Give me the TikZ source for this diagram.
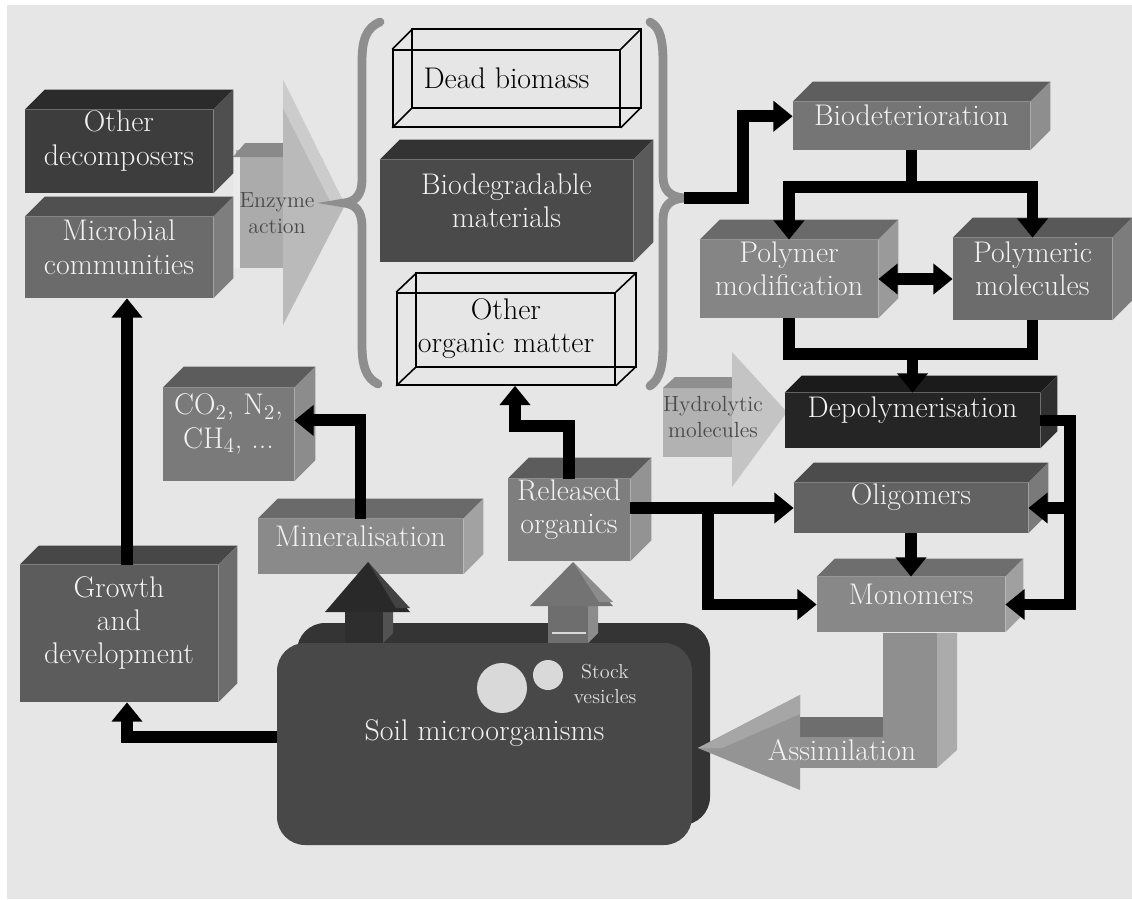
\documentclass[tikz,border=0pt]{standalone}
\usetikzlibrary{fit,calc,arrows.meta}
\definecolor{bg}{HTML}{E6E6E6}
\definecolor{txtw}{HTML}{F2F2F2}
\definecolor{txtg}{HTML}{4A4A4A}
\definecolor{braceg}{HTML}{8E8E8E}
% box colours: front / top / side
\definecolor{odf}{HTML}{3D3D3D}\definecolor{odt}{HTML}{2B2B2B}\definecolor{ods}{HTML}{4F4F4F}
\definecolor{mcf}{HTML}{6B6B6B}\definecolor{mct}{HTML}{505050}\definecolor{mcs}{HTML}{7E7E7E}
\definecolor{bmf}{HTML}{4A4A4A}\definecolor{bmt}{HTML}{333333}\definecolor{bms}{HTML}{5A5A5A}
\definecolor{bdf}{HTML}{757575}\definecolor{bdt}{HTML}{5E5E5E}\definecolor{bds}{HTML}{8E8E8E}
\definecolor{pmf}{HTML}{858585}\definecolor{pmt}{HTML}{6A6A6A}\definecolor{pms}{HTML}{9A9A9A}
\definecolor{plf}{HTML}{6C6C6C}\definecolor{plt}{HTML}{585858}\definecolor{pls}{HTML}{7C7C7C}
\definecolor{dpf}{HTML}{252525}\definecolor{dpt}{HTML}{1B1B1B}\definecolor{dps}{HTML}{303030}
\definecolor{olf}{HTML}{626262}\definecolor{olt}{HTML}{4C4C4C}\definecolor{ols}{HTML}{7A7A7A}
\definecolor{mof}{HTML}{888888}\definecolor{mot}{HTML}{6E6E6E}\definecolor{mos}{HTML}{A0A0A0}
\definecolor{mif}{HTML}{8A8A8A}\definecolor{mit}{HTML}{6A6A6A}\definecolor{mis}{HTML}{A2A2A2}
\definecolor{ref}{HTML}{7E7E7E}\definecolor{ret}{HTML}{5C5C5C}\definecolor{res}{HTML}{939393}
\definecolor{cof}{HTML}{7A7A7A}\definecolor{cot}{HTML}{5C5C5C}\definecolor{cos}{HTML}{8C8C8C}
\definecolor{grf}{HTML}{5C5C5C}\definecolor{grt}{HTML}{474747}\definecolor{grs}{HTML}{6D6D6D}
\definecolor{soilf}{HTML}{484848}\definecolor{soilb}{HTML}{343434}
\definecolor{vesc}{HTML}{D9D9D9}
\newcommand\cube[8]{%
  \node[boxnode, fill=#4, fit={#2 #3}] (#1) {#7};
  \fill[#5] (#1.north west) -- ++(#8,-#8) -- ($(#1.north east)+(#8,-#8)$) -- (#1.north east) -- cycle;
  \fill[#6] (#1.north east) -- ++(#8,-#8) -- ($(#1.south east)+(#8,-#8)$) -- (#1.south east) -- cycle;
}
\begin{document}
\begin{tikzpicture}[x=0.02cm,y=-0.02cm,
  lbl/.style={font=\fontsize{17}{19}\selectfont, text=txtw, align=center},
  small/.style={font=\fontsize{12.5}{14.5}\selectfont, align=center},
  boxnode/.style={inner sep=0pt, lbl},
  wire/.style={draw=black, line width=0.9pt},
  wirebox/.style={wire, inner sep=0pt, lbl, text=black},
  conn/.style={draw=black, line width=6.8pt, line join=miter, -{Triangle[length=11pt,width=17pt]}},
  conn2/.style={draw=black, line width=6.8pt, line join=miter, {Triangle[length=11pt,width=17pt]}-{Triangle[length=11pt,width=17pt]}},
  connline/.style={draw=black, line width=6.8pt, line join=miter},
  brace/.style={draw=braceg, line width=5pt, line cap=round},
]
\useasboundingbox (0,0) rectangle (1132,899);
\fill[white] (0,0) rectangle (1132,899);
\fill[bg] (7,5) rectangle (1132,899);

% Enzyme action block arrow
\fill[black!33] (236,150) rectangle (290,268);
\fill[black!8] (233,157) rectangle (240,268);
\fill[black!46] (233,157) -- (245,143) -- (286,143) -- (286,157) -- cycle;
\fill[black!27] (283,80) -- (345,205) -- (283,325) -- cycle;
\fill[black!20] (283,80) -- (345,205) -- (332,205) -- (283,108) -- cycle;
\node[small, text=txtg] (enz) at (277,213) {Enzyme\\action};

% Hydrolytic molecules block arrow
\fill[black!30] (663,388) rectangle (735,457);
\fill[black!44] (663,388) -- (675,377) -- (735,377) -- (735,388) -- cycle;
\fill[black!23] (732,352) -- (787,412) -- (732,487) -- cycle;
\node[small, text=txtg] (hydro) at (713,417) {Hydrolytic\\molecules};

% left column
\cube{od}{(25,110)}{(213,193)}{odf}{odt}{ods}{Other\\decomposers}{20}
\cube{mc}{(25,217)}{(213,298)}{mcf}{mct}{mcs}{Microbial\\communities}{20}
\cube{growth}{(20,565)}{(218,702)}{grf}{grt}{grs}{Growth\\and\\development}{19}
\cube{co2}{(163,388)}{(294,481)}{cof}{cot}{cos}{CO$_2$, N$_2$,\\CH$_4$, ...}{21}
\cube{mineral}{(258,519)}{(463,574)}{mif}{mit}{mis}{Mineralisation}{20}
\cube{released}{(508,479)}{(630,561)}{ref}{ret}{res}{Released\\organics}{21}

% middle column
\node[wirebox, fit={(393,50) (620,127)}] (dead) {Dead biomass};
\draw[wire] ($(dead.north west)+(20,-20)$) rectangle ($(dead.south east)+(20,-20)$);
\draw[wire] (dead.north west) -- ++(20,-20) (dead.north east) -- ++(20,-20)
            (dead.south west) -- ++(20,-20) (dead.south east) -- ++(20,-20);
\cube{bio}{(380,160)}{(633,262)}{bmf}{bmt}{bms}{Biodegradable\\materials}{20}
\node[wirebox, fit={(397,293) (615,385)}] (oom) {Other\\organic matter};
\draw[wire] ($(oom.north west)+(20,-19)$) rectangle ($(oom.south east)+(20,-19)$);
\draw[wire] (oom.north west) -- ++(20,-19) (oom.north east) -- ++(20,-19)
            (oom.south west) -- ++(20,-19) (oom.south east) -- ++(20,-19);

% braces
\draw[brace] (380,22) .. controls (366,28) and (362,40) .. (362,62) -- (362,180)
  .. controls (362,195) and (355,202) .. (344,203) .. controls (355,204) and (362,211) .. (362,226)
  -- (362,345) .. controls (362,366) and (366,378) .. (378,384);
\draw[brace] (650,22) .. controls (660,27) and (663,40) .. (663,62) -- (663,176)
  .. controls (663,190) and (670,197) .. (684,198) .. controls (670,199) and (663,206) .. (663,220)
  -- (663,345) .. controls (663,366) and (660,379) .. (650,386);
\coordinate (rbr) at (684,198);

% right column
\cube{biodet}{(793,102)}{(1030,150)}{bdf}{bdt}{bds}{Biodeterioration}{20}
\cube{polymod}{(700,240)}{(878,318)}{pmf}{pmt}{pms}{Polymer\\modification}{20}
\cube{polymol}{(953,238)}{(1112,320)}{plf}{plt}{pls}{Polymeric\\molecules}{20}
\cube{depoly}{(785,393)}{(1040,448)}{dpf}{dpt}{dps}{Depolymerisation}{17}
\cube{olig}{(794,483)}{(1028,533)}{olf}{olt}{ols}{Oligomers}{20}
\cube{monom}{(817,577)}{(1005,632)}{mof}{mot}{mos}{Monomers}{18}

% soil microorganisms
\fill[soilb, rounded corners=16pt] (297,623) rectangle (710,825);
\node[boxnode, fill=soilf, rounded corners=16pt, fit={(277,643) (692,845)}] (soil) {Soil microorganisms};
\node[circle, fill=vesc, inner sep=0pt, minimum size=1cm] (ves1) at (502,688) {};
\node[circle, fill=vesc, inner sep=0pt, minimum size=0.6cm] (ves2) at (548,675) {};
\node[font=\fontsize{11.5}{14}\selectfont, align=center, text=black!12] (stock) at (605,684) {Stock\\vesicles};

% up block arrows from soil
\fill[black!82] (345,600) rectangle (383,643);
\fill[black!68] (383,600) -- (393,592) -- (393,633) -- (383,643) -- cycle;
\fill[black!84] (325,612) -- (368,562) -- (410,612) -- cycle;
\fill[black!74] (368,562) -- (410,608) -- (396,608) -- cycle;
\fill[black!57] (548,600) rectangle (588,643);
\fill[black!45] (588,600) -- (598,592) -- (598,633) -- (588,643) -- cycle;
\fill[black!55] (530,606) -- (573,562) -- (613,606) -- cycle;
\fill[black!45] (573,562) -- (613,602) -- (599,602) -- cycle;
\draw[black!15, line width=1pt] (552,633) -- (586,633);

% assimilation L-shaped block arrow
\fill[black!44] (883,633) rectangle (937,768);
\fill[black!33] (937,633) -- (957,633) -- (957,750) -- (937,768) -- cycle;
\fill[black!44] (797,737) rectangle (883,768);
\fill[black!57] (780,717) rectangle (883,737);
\fill[black!42] (800,695) -- (698,748) -- (800,790) -- cycle;
\fill[black!35] (800,695) -- (698,748) -- (722,748) -- (800,714) -- cycle;
\node[lbl] (assim) at (842,750) {Assimilation};

% connectors
\draw[conn] (rbr) -- (743,198) |- ($(biodet.north west)!0.3!(biodet.south west)$);
\draw[connline] (biodet.south) -- ++(0,37) coordinate (split);
\draw[conn] (split) -| (polymod.north);
\draw[conn] (split) -| (polymol.north);
\draw[conn2] (polymod.east) -- (polymol.west);
\draw[connline] (polymod.south) -- ++(0,36) coordinate (mj) -| (polymol.south);
\draw[conn] (mj -| depoly.north) -- (depoly.north);
\draw[conn] (depoly.east) -- ++(30,0) coordinate (dr) |- (monom.east);
\draw[conn] (dr |- olig.east) -- (olig.east);
\draw[conn] (olig.south) -- (monom.north);
\draw[conn] (released.east |- olig.west) -- (olig.west);
\draw[conn] ($(released.east |- olig.west)+(78,0)$) |- (monom.west);
\draw[conn] (mineral.north) |- ($(co2.north east)!0.35!(co2.south east)$);
\draw[conn] (released.north) -- ++(0,-53) -| ($(oom.south)+(9,0)$);
\draw[conn] ($(soil.west)+(0,-7)$) -| ($(growth.south)+(8,0)$);
\draw[conn] ($(growth.north)+(8,0)$) -- ($(mc.south)+(8,0)$);
\end{tikzpicture}
\end{document}
